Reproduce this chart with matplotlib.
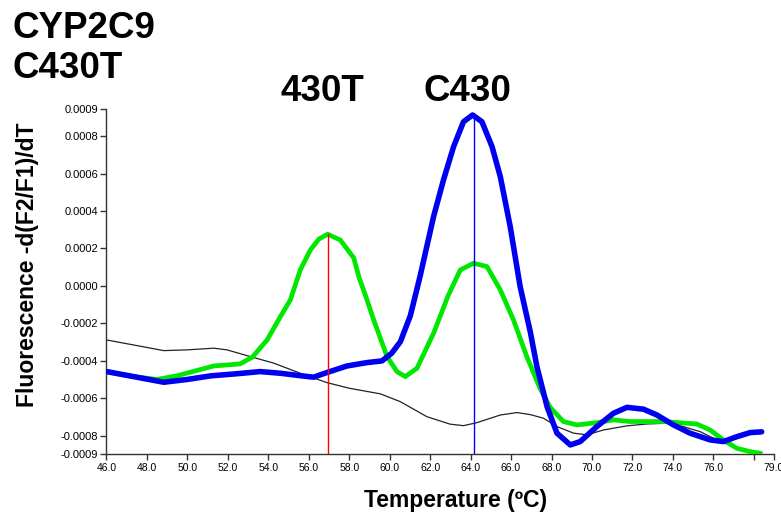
import matplotlib
matplotlib.use("Agg")
import matplotlib.pyplot as plt

plt.rcParams['font.family'] = ['Liberation Sans', 'DejaVu Sans']

# ---- data (x in degC, y in -d(F2/F1)/dT) ----
blue_x = [46.0, 47.35, 48.83, 50.0, 51.14, 52.4, 53.6, 54.6, 55.58, 56.24, 56.9,
          57.89, 58.88, 59.62, 60.1, 60.53, 61.02, 61.5, 62.17, 62.66, 63.16, 63.65,
          64.1, 64.56, 65.06, 65.47, 65.96, 66.45, 66.95, 67.28, 67.78, 68.27, 68.93,
          69.42, 70.24, 71.06, 71.73, 72.55, 73.21, 74.03, 74.85, 75.84, 76.5, 77.16,
          77.82, 78.39]
blue_y = [-0.000458, -0.000485, -0.000515, -0.000500, -0.000481, -0.000470, -0.000458,
          -0.000467, -0.000480, -0.000488, -0.000463, -0.000428, -0.000410, -0.000401,
          -0.000360, -0.000298, -0.000160, 0.000050, 0.000370, 0.000566, 0.000744,
          0.000877, 0.000913, 0.000877, 0.000744, 0.000583, 0.000316, -0.000004,
          -0.000245, -0.000432, -0.000645, -0.000787, -0.000850, -0.000832, -0.000752,
          -0.000681, -0.000649, -0.000659, -0.000690, -0.000743, -0.000787, -0.000823,
          -0.000832, -0.000806, -0.000784, -0.000780]

green_x = [46.0, 47.35, 48.5, 49.5, 51.3, 52.6, 53.2, 53.94, 54.6, 55.09, 55.58, 56.08,
           56.5, 56.93, 57.56, 58.22, 58.5, 58.8, 59.21, 59.87, 60.36, 60.77, 61.35,
           62.17, 62.9, 63.49, 64.15, 64.81, 65.47, 66.12, 66.78, 67.44, 67.94, 68.59,
           69.26, 70.24, 71.06, 71.89, 73.53, 75.18, 75.84, 76.5, 77.16, 77.82, 78.31]
green_y = [-0.000458, -0.000485, -0.000500, -0.000480, -0.000428, -0.000417, -0.000382,
           -0.000289, -0.000164, -0.000075, 0.000085, 0.000192, 0.000250, 0.000276,
           0.000245, 0.000150, 0.000040, -0.000050, -0.000182, -0.000378, -0.000458,
           -0.000485, -0.000440, -0.000253, -0.000050, 0.000085, 0.000121, 0.000103,
           -0.000022, -0.000182, -0.000378, -0.000550, -0.000650, -0.000725, -0.000743,
           -0.000731, -0.000716, -0.000725, -0.000725, -0.000738, -0.000770, -0.000823,
           -0.000868, -0.000886, -0.000894]

black_x = [46.0, 47.35, 48.83, 49.99, 51.3, 51.96, 53.11, 54.27, 55.58, 56.9, 58.0,
           59.54, 60.53, 61.84, 62.99, 63.65, 64.31, 65.47, 66.29, 66.95, 67.6, 68.27,
           69.09, 69.75, 70.57, 71.73, 72.71, 73.7, 74.52, 75.35, 76.17, 76.99, 78.15,
           78.4]
black_y = [-0.000289, -0.000316, -0.000346, -0.000342, -0.000333, -0.000342, -0.000378,
           -0.000413, -0.000467, -0.000517, -0.000547, -0.000577, -0.000619, -0.000699,
           -0.000739, -0.000747, -0.000731, -0.000690, -0.000677, -0.000688, -0.000707,
           -0.000752, -0.000787, -0.000796, -0.000770, -0.000748, -0.000738, -0.000734,
           -0.000752, -0.000779, -0.000823, -0.000859, -0.000886, -0.000890]

marker_t = [56.93, 64.15]
marker_top = [0.000276, 0.000913]
marker_col = ['#ff0000', '#0000ff']
peak_labels = ['430T', 'C430']

x_ticks = [46, 48, 50, 52, 54, 56, 58, 60, 62, 64, 66, 68, 70, 72, 74, 76, 78, 79]
x_ticklabels = ['46.0', '48.0', '50.0', '52.0', '54.0', '56.0', '58.0', '60.0', '62.0',
                '64.0', '66.0', '68.0', '70.0', '72.0', '74.0', '76.0', '', '79.0']
y_ticks = [-0.0009, -0.0008, -0.0006, -0.0004, -0.0002, 0.0, 0.0002, 0.0004, 0.0006,
           0.0008, 0.000945]
y_ticklabels = ['-0.0009', '-0.0008', '-0.0006', '-0.0004', '-0.0002', '0.0000',
                '0.0002', '0.0004', '0.0006', '0.0008', '0.0009']

W, H = 781, 515
fig = plt.figure(figsize=(W / 100, H / 100), dpi=100)
ax = fig.add_axes([106.5 / W, 1 - 454.3 / H, (774 - 106.5) / W, (454.3 - 109) / H])

ax.plot(black_x, black_y, color='#222222', lw=0.9, zorder=2)
ax.plot(green_x, green_y, color='#00e800', lw=3.4, solid_joinstyle='round',
        solid_capstyle='round', zorder=3)
ax.plot(blue_x, blue_y, color='#0000f0', lw=4.0, solid_joinstyle='round',
        solid_capstyle='round', zorder=4)
for t, top, c in zip(marker_t, marker_top, marker_col):
    ax.plot([t, t], [-0.0009, top], color=c, lw=1.0, zorder=5)

ax.set_xlim(46, 79)
ax.set_ylim(-0.0009, 0.000945)
ax.set_xticks(x_ticks)
ax.set_xticklabels(x_ticklabels)
ax.set_yticks(y_ticks)
ax.set_yticklabels(y_ticklabels)
ax.tick_params(axis='both', direction='out', length=4, width=1, color='#333333',
               labelsize=7.5, pad=2)
ax.tick_params(axis='y', labelsize=8)
for s in ['top', 'right']:
    ax.spines[s].set_visible(False)
for s in ['left', 'bottom']:
    ax.spines[s].set_color('#333333')
    ax.spines[s].set_linewidth(1.0)

fig.text(456 / W, 1 - 500 / H, 'Temperature (\u00baC)', ha='center', va='center',
         fontsize=16.5, fontweight='bold')
fig.text(28 / W, 1 - 265 / H, 'Fluorescence -d(F2/F1)/dT', ha='center', va='center',
         rotation=90, fontsize=16.5, fontweight='bold')

fig.text(12 / W, 1 - 38 / H, 'CYP2C9', ha='left', va='baseline', fontsize=26.5,
         fontweight='bold')
fig.text(12 / W, 1 - 78 / H, 'C430T', ha='left', va='baseline', fontsize=26.5,
         fontweight='bold')
for lab, xc in zip(peak_labels, [322, 467]):
    fig.text(xc / W, 1 - 101 / H, lab, ha='center', va='baseline', fontsize=26.5,
             fontweight='bold')

fig.savefig('out.png', dpi=100)
